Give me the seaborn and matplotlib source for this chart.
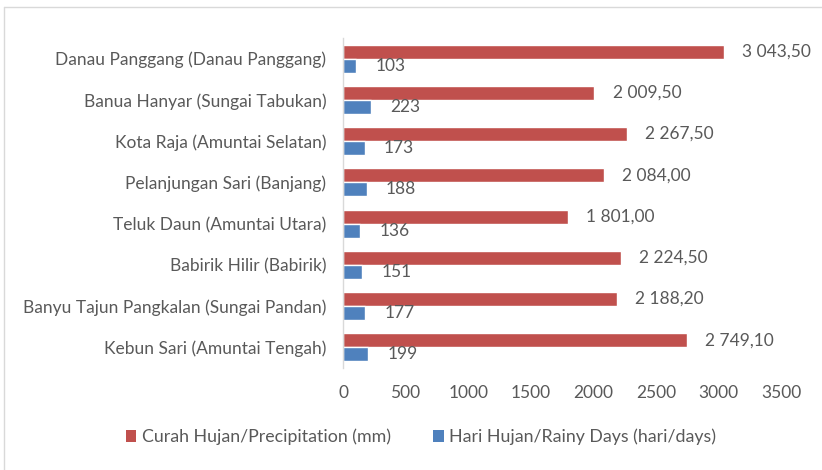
import matplotlib
matplotlib.use("Agg")
import matplotlib.pyplot as plt
import seaborn as sns
import pandas as pd
from matplotlib.patches import Patch
from matplotlib.lines import Line2D

categories = [
    "Danau Panggang (Danau Panggang)",
    "Banua Hanyar (Sungai Tabukan)",
    "Kota Raja (Amuntai Selatan)",
    "Pelanjungan Sari (Banjang)",
    "Teluk Daun (Amuntai Utara)",
    "Babirik Hilir (Babirik)",
    "Banyu Tajun Pangkalan (Sungai Pandan)",
    "Kebun Sari (Amuntai Tengah)",
]
precipitation = [3043.50, 2009.50, 2267.50, 2084.00, 1801.00, 2224.50, 2188.20, 2749.10]
rainy_days = [103, 223, 173, 188, 136, 151, 177, 199]
series_names = ["Curah Hujan/Precipitation (mm)", "Hari Hujan/Rainy Days (hari/days)"]
x_ticks = [0, 500, 1000, 1500, 2000, 2500, 3000, 3500]

RED = "#C0504D"
BLUE = "#4F81BD"
TXT = "#595959"
FS = 12.5

sns.set_theme(style="white")
plt.rcParams["font.family"] = ["Lato", "DejaVu Sans"]

df = pd.DataFrame({
    "cat": categories * 2,
    "val": precipitation + rainy_days,
    "series": [series_names[0]] * len(categories) + [series_names[1]] * len(categories),
})

fig = plt.figure(figsize=(8.22, 4.70), dpi=100)
ax = fig.add_axes([343 / 822, 1 - 368 / 470, (781 - 343) / 822, 330 / 470])

sns.barplot(data=df, y="cat", x="val", hue="series", order=categories,
            hue_order=series_names, palette=[RED, BLUE], orient="h",
            width=0.68, saturation=1, ax=ax, legend=False, errorbar=None)

def fmt_prec(v):
    s = f"{v:,.2f}"
    return s.replace(",", " ").replace(".", ",")

ax.bar_label(ax.containers[0], labels=[fmt_prec(v) for v in precipitation],
             padding=13, color=TXT, fontsize=FS)
ax.bar_label(ax.containers[1], labels=[str(v) for v in rainy_days],
             padding=14, color=TXT, fontsize=FS)

ax.set_xlim(0, 3500)
ax.set_xticks(x_ticks)
ax.set_xticklabels([str(t) for t in x_ticks])
ax.set_xlabel("")
ax.set_ylabel("")
ax.tick_params(axis="x", length=0, pad=12, labelsize=FS, labelcolor=TXT)
ax.tick_params(axis="y", length=0, pad=12, labelsize=FS, labelcolor=TXT)
for s in ["top", "right", "bottom"]:
    ax.spines[s].set_visible(False)
ax.spines["left"].set_color("#D9D9D9")
ax.spines["left"].set_linewidth(1)

handles = [Patch(facecolor=RED, edgecolor="none"), Patch(facecolor=BLUE, edgecolor="none")]
fig.legend(handles, series_names, loc="center", bbox_to_anchor=(0.512, 1 - 437 / 470),
           ncol=2, frameon=False, fontsize=12.8, labelcolor=TXT, handlelength=0.6,
           handleheight=0.6, handletextpad=0.3, columnspacing=2.4)

# chart frame lines (top and left)
fig.add_artist(Line2D([4 / 822, 1], [1 - 7 / 470, 1 - 7 / 470], color="#D9D9D9", lw=1,
                      transform=fig.transFigure))
fig.add_artist(Line2D([4 / 822, 4 / 822], [0, 1 - 7 / 470], color="#D9D9D9", lw=1,
                      transform=fig.transFigure))

fig.savefig("out.png", dpi=100)
